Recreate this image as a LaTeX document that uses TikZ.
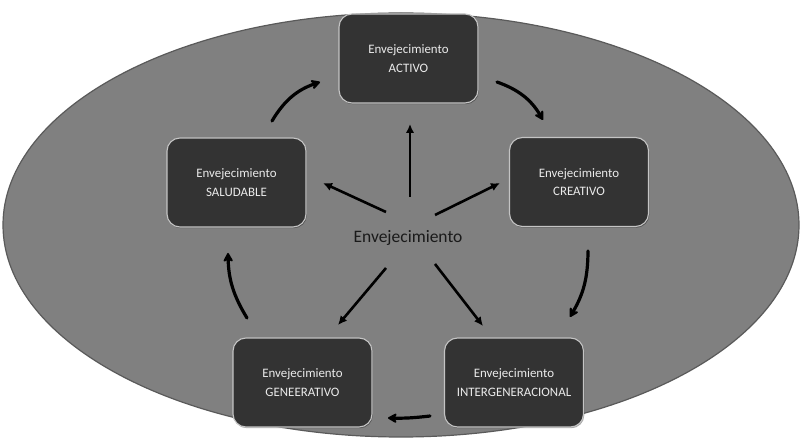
\documentclass[tikz,border=0pt]{standalone}
\usepackage{fontspec}
\setmainfont{Carlito}
\usetikzlibrary{arrows.meta,calc,shadows}
\definecolor{plate}{HTML}{808080}
\definecolor{plateedge}{HTML}{5A5A5A}
\definecolor{boxfill}{HTML}{333333}
\definecolor{boxedge}{HTML}{C4C4C4}
\definecolor{boxtext}{HTML}{EBEBEB}
\definecolor{hubtext}{HTML}{1A1A1A}
\tikzset{
  stagebox/.style={draw=boxedge, line width=1.1pt, fill=boxfill, rounded corners=13pt,
    minimum width=139pt, minimum height=89pt, align=center, text=boxtext,
    font=\fontsize{12.9}{18.5}\selectfont, inner sep=0pt,
    drop shadow={shadow xshift=0.8pt, shadow yshift=-1.2pt, fill=black, opacity=0.35}},
  hub/.style={text=hubtext, font=\fontsize{17.5}{20}\selectfont, inner sep=0pt},
  cyclearrow/.style={line width=3.2pt, line cap=round,
    -{Stealth[length=11pt, width=12pt, inset=3.5pt, round]}},
  spoke/.style={line width=2.6pt,
    -{Latex[length=9pt, width=8.5pt]}}
}
\begin{document}
\begin{tikzpicture}[x=1pt, y=-1pt]
  \path[use as bounding box] (0,0) rectangle (804,443);
  % backdrop
  \fill[white] (0,0) rectangle (804,443);
  \draw[plateedge, fill=plate, line width=1.2pt] (401,225) ellipse [x radius=398, y radius=212];

  % stages of the cycle
  \node[stagebox] (act) at (408.5,58.5) {Envejecimiento\\ACTIVO};
  \node[stagebox] (sal) at (236.5,182.5) {Envejecimiento\\SALUDABLE};
  \node[stagebox] (cre) at (579,182) {Envejecimiento\\CREATIVO};
  \node[stagebox] (gen) at (302.5,382.5) {Envejecimiento\\GENEERATIVO};
  \node[stagebox] (int) at (514,382.5) {Envejecimiento\\INTERGENERACIONAL};
  \node[hub] (hub) at (408,238) {Envejecimiento};

  % cycle arrows
  \draw[cyclearrow] ([shift={(35.5,-61.5)}]sal.center) to[bend left=20] ([shift={(-88.5,23.5)}]act.center);
  \draw[cyclearrow] ([shift={(88.5,23.5)}]act.center) to[bend left=20] ([shift={(-36,-62)}]cre.center);
  \draw[cyclearrow] ([shift={(9,69)}]cre.center) to[bend left=15] ([shift={(56,-65.5)}]int.center);
  \draw[cyclearrow] ([shift={(-84,33.5)}]int.center) to[bend left=4] ([shift={(85.5,35.5)}]gen.center);
  \draw[cyclearrow] ([shift={(-55.5,-64.5)}]gen.center) to[bend left=15] ([shift={(-8.5,70.5)}]sal.center);

  % spokes from the hub
  \draw[spoke] ([shift={(2,-41)}]hub.center) -- ([shift={(1.5,65.5)}]act.center);
  \draw[spoke] ([shift={(-22,-26)}]hub.center) -- ([shift={(86.5,0.5)}]sal.center);
  \draw[spoke] ([shift={(27,-23)}]hub.center) -- ([shift={(-79,1)}]cre.center);
  \draw[spoke] ([shift={(-22,30)}]hub.center) -- ([shift={(35.5,-57.5)}]gen.center);
  \draw[spoke] ([shift={(27,26)}]hub.center) -- ([shift={(-31,-56.5)}]int.center);
\end{tikzpicture}
\end{document}
